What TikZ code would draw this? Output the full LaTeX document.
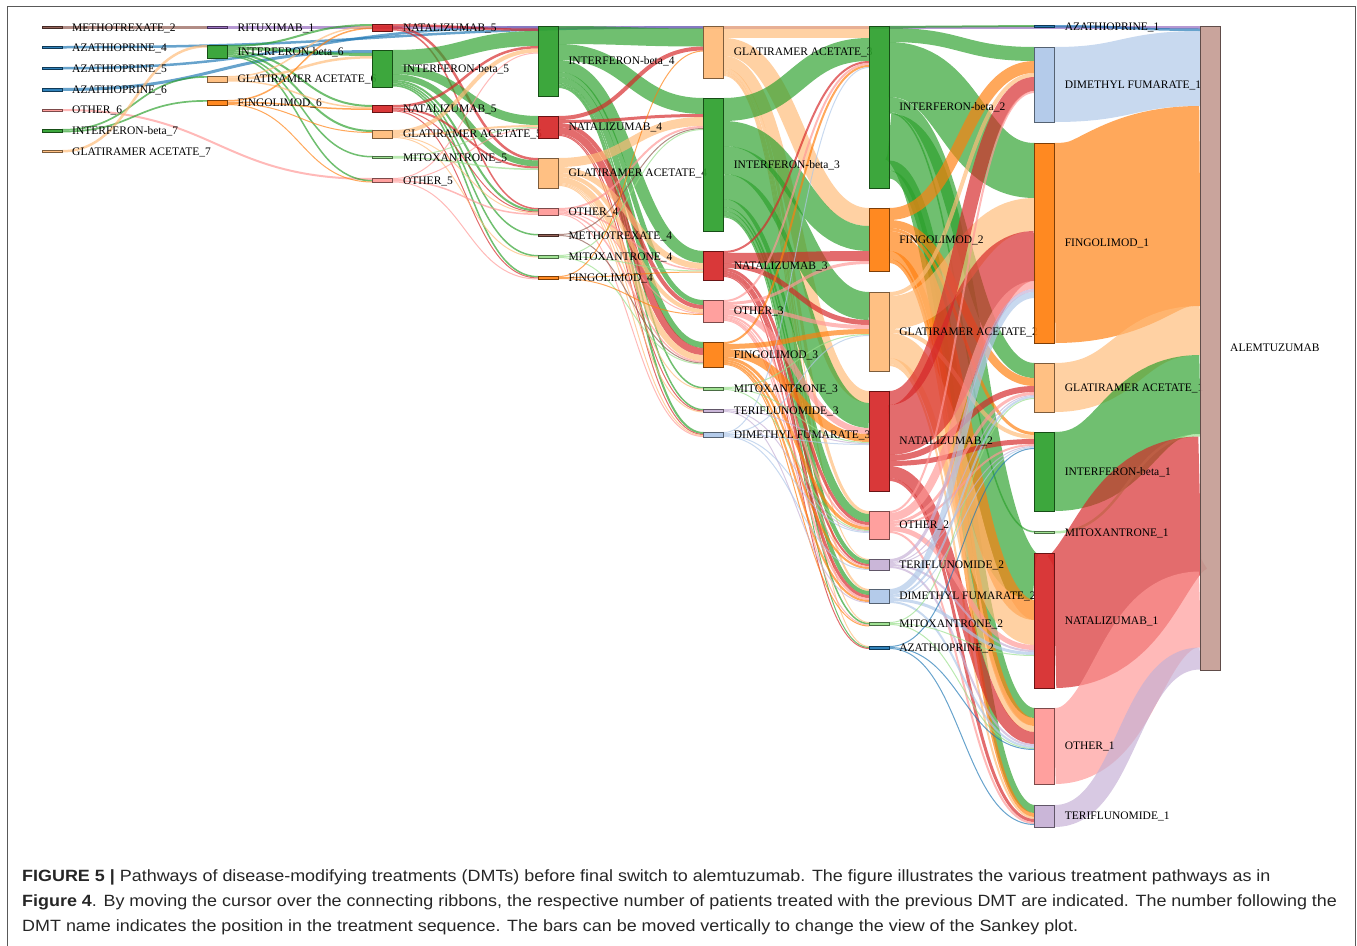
\documentclass[tikz,border=0pt]{standalone}
\usepackage{fontspec}
\setmainfont{Liberation Serif}
\newfontfamily\capfont[FakeStretch=1.1]{Liberation Sans}
\usetikzlibrary{calc}
\pgfdeclarelayer{bg}
\pgfsetlayers{bg,main}
\definecolor{cifn}{HTML}{2CA02C}
\definecolor{cfin}{HTML}{FF7F0E}
\definecolor{cga}{HTML}{FFBB78}
\definecolor{cnat}{HTML}{D62728}
\definecolor{coth}{HTML}{FF9896}
\definecolor{cdmf}{HTML}{AEC7E8}
\definecolor{cter}{HTML}{C5B0D5}
\definecolor{cmit}{HTML}{98DF8A}
\definecolor{caza}{HTML}{1F77B4}
\definecolor{cmet}{HTML}{8C564B}
\definecolor{crit}{HTML}{9467BD}
\definecolor{calem}{HTML}{C49C94}
\tikzset{
  dmtbar/.style={rectangle, inner sep=0pt, outer sep=0pt, minimum width=20pt, line width=0.9pt, fill opacity=0.92},
  dmtlab/.style={anchor=west, inner sep=0pt, text height=7.6pt, text depth=0pt, font=\fontsize{11.5}{12}\selectfont},
  ribbon/.style={draw opacity=0.68, line cap=butt},
  capline/.style={anchor=base west, inner sep=0pt, text=black!85, font=\capfont\fontsize{16.3}{18}\selectfont},
}
\newcommand\mknode[6]{%
  \node[dmtbar, fill=#5, draw=#5!49!black, minimum height=#4pt, anchor=north west] (#1) at (#2,#3) {};
  \node[dmtlab] (#1-l) at ($(#1.east)+(10,0)$) {#6};
  \expandafter\xdef\csname dmto@#1\endcsname{0}%
  \expandafter\xdef\csname dmti@#1\endcsname{0}%
  \expandafter\xdef\csname dmtc@#1\endcsname{#5}%
}
\newcommand\dmtlink[3]{%
  \pgfmathsetmacro\fso{\csname dmto@#1\endcsname+#3/2}%
  \pgfmathsetmacro\fdi{\csname dmti@#2\endcsname+#3/2}%
  \pgfmathsetmacro\fnext{\csname dmto@#1\endcsname+#3}%
  \expandafter\xdef\csname dmto@#1\endcsname{\fnext}%
  \pgfmathsetmacro\fnext{\csname dmti@#2\endcsname+#3}%
  \expandafter\xdef\csname dmti@#2\endcsname{\fnext}%
  \edef\fcol{\csname dmtc@#1\endcsname}%
  \draw[ribbon, draw=\fcol, line width=#3pt] let \p1=($(#1.north east)+(0,\fso)$), \p2=($(#2.north west)+(0,\fdi)$) in (\p1) .. controls ({(\x1+\x2)/2},\y1) and ({(\x1+\x2)/2},\y2) .. (\p2);%
}
\begin{document}
\begin{tikzpicture}[x=1pt,y=-1pt]
\useasboundingbox (0,0) rectangle (1357,945);
\draw[line width=1.3pt, black!65] (7.5,946) -- (7.5,6.5) -- (1355.5,6.5) -- (1355.5,946);
% column 7
\mknode{met2}{42}{26}{2.5}{cmet}{METHOTREXATE\_2}
\mknode{aza4}{42}{46}{2.5}{caza}{AZATHIOPRINE\_4}
\mknode{aza5}{42}{67}{2.5}{caza}{AZATHIOPRINE\_5}
\mknode{aza6}{42}{88}{3}{caza}{AZATHIOPRINE\_6}
\mknode{oth6}{42}{109}{2}{coth}{OTHER\_6}
\mknode{ifn7}{42}{129}{3.5}{cifn}{INTERFERON-beta\_7}
\mknode{ga7}{42}{150}{2.5}{cga}{GLATIRAMER ACETATE\_7}
% column 6
\mknode{rit1}{207.4}{26}{2.5}{crit}{RITUXIMAB\_1}
\mknode{ifn6}{207.4}{45}{13}{cifn}{INTERFERON-beta\_6}
\mknode{ga6}{207.4}{76}{6}{cga}{GLATIRAMER ACETATE\_6}
\mknode{fin6}{207.4}{100}{5}{cfin}{FINGOLIMOD\_6}
% column 5
\mknode{nat5a}{372.9}{24}{7}{cnat}{NATALIZUMAB\_5}
\mknode{ifn5}{372.9}{50}{37}{cifn}{INTERFERON-beta\_5}
\mknode{nat5b}{372.9}{105}{7}{cnat}{NATALIZUMAB\_5}
\mknode{ga5}{372.9}{130}{8}{cga}{GLATIRAMER ACETATE\_5}
\mknode{mit5}{372.9}{156}{2.5}{cmit}{MITOXANTRONE\_5}
\mknode{oth5}{372.9}{178}{4.5}{coth}{OTHER\_5}
% column 4
\mknode{ifn4}{538.3}{26}{70}{cifn}{INTERFERON-beta\_4}
\mknode{nat4}{538.3}{116}{22}{cnat}{NATALIZUMAB\_4}
\mknode{ga4}{538.3}{158}{30}{cga}{GLATIRAMER ACETATE\_4}
\mknode{oth4}{538.3}{208}{7}{coth}{OTHER\_4}
\mknode{met4}{538.3}{234}{2.5}{cmet}{METHOTREXATE\_4}
\mknode{mit4}{538.3}{255}{3}{cmit}{MITOXANTRONE\_4}
\mknode{fin4}{538.3}{276}{3}{cfin}{FINGOLIMOD\_4}
% column 3
\mknode{ga3}{703.7}{26}{52}{cga}{GLATIRAMER ACETATE\_3}
\mknode{ifn3}{703.7}{98}{133}{cifn}{INTERFERON-beta\_3}
\mknode{nat3}{703.7}{251}{29}{cnat}{NATALIZUMAB\_3}
\mknode{oth3}{703.7}{300}{22}{coth}{OTHER\_3}
\mknode{fin3}{703.7}{342}{25}{cfin}{FINGOLIMOD\_3}
\mknode{mit3}{703.7}{387}{3}{cmit}{MITOXANTRONE\_3}
\mknode{ter3}{703.7}{409}{3.5}{cter}{TERIFLUNOMIDE\_3}
\mknode{dmf3}{703.7}{432}{5}{cdmf}{DIMETHYL FUMARATE\_3}
% column 2
\mknode{ifn2}{869.1}{26}{162}{cifn}{INTERFERON-beta\_2}
\mknode{fin2}{869.1}{208}{63}{cfin}{FINGOLIMOD\_2}
\mknode{ga2}{869.1}{292}{79}{cga}{GLATIRAMER ACETATE\_2}
\mknode{nat2}{869.1}{391}{100}{cnat}{NATALIZUMAB\_2}
\mknode{oth2}{869.1}{511}{28}{coth}{OTHER\_2}
\mknode{ter2}{869.1}{559}{11}{cter}{TERIFLUNOMIDE\_2}
\mknode{dmf2}{869.1}{589}{14}{cdmf}{DIMETHYL FUMARATE\_2}
\mknode{mit2}{869.1}{622}{3.5}{cmit}{MITOXANTRONE\_2}
\mknode{aza2}{869.1}{646}{3}{caza}{AZATHIOPRINE\_2}
% column 1
\mknode{aza1}{1034.6}{25}{2.5}{caza}{AZATHIOPRINE\_1}
\mknode{dmf1}{1034.6}{47}{75}{cdmf}{DIMETHYL FUMARATE\_1}
\mknode{fin1}{1034.6}{143}{200}{cfin}{FINGOLIMOD\_1}
\mknode{ga1}{1034.6}{363}{49}{cga}{GLATIRAMER ACETATE\_1}
\mknode{ifn1}{1034.6}{432}{79}{cifn}{INTERFERON-beta\_1}
\mknode{mit1}{1034.6}{531}{2.5}{cmit}{MITOXANTRONE\_1}
\mknode{nat1}{1034.6}{553}{135}{cnat}{NATALIZUMAB\_1}
\mknode{oth1}{1034.6}{708}{76}{coth}{OTHER\_1}
\mknode{ter1}{1034.6}{805}{22}{cter}{TERIFLUNOMIDE\_1}
% column 0
\mknode{alem}{1200}{26}{644}{calem}{ALEMTUZUMAB}
\begin{pgfonlayer}{bg}
% from column 7
\dmtlink{met2}{rit1}{2.5}
\dmtlink{aza4}{ga3}{2.5}
\dmtlink{aza5}{ifn4}{2.5}
\dmtlink{aza6}{ifn5}{3}
\dmtlink{oth6}{oth5}{2}
\dmtlink{ifn7}{ga6}{1.7}
\dmtlink{ifn7}{fin6}{1.7}
\dmtlink{ga7}{ifn6}{2.5}
% from column 6
\dmtlink{rit1}{alem}{2.5}
\dmtlink{ifn6}{nat5a}{2}
\dmtlink{ifn6}{ifn5}{3}
\dmtlink{ifn6}{nat5b}{2}
\dmtlink{ifn6}{ga5}{2}
\dmtlink{ifn6}{mit5}{1.5}
\dmtlink{ifn6}{oth5}{1.5}
\dmtlink{ga6}{nat5a}{1.5}
\dmtlink{ga6}{ifn5}{2.5}
\dmtlink{ga6}{nat5b}{1.5}
\dmtlink{fin6}{nat5a}{1.5}
\dmtlink{fin6}{nat5b}{1.5}
\dmtlink{fin6}{ga5}{1}
\dmtlink{fin6}{oth5}{1}
% from column 5
\dmtlink{nat5a}{ifn4}{2.5}
\dmtlink{nat5a}{ga4}{2.5}
\dmtlink{nat5a}{oth4}{1.5}
\dmtlink{ifn5}{ifn4}{15}
\dmtlink{ifn5}{nat4}{9}
\dmtlink{ifn5}{ga4}{6}
\dmtlink{ifn5}{oth4}{2}
\dmtlink{ifn5}{met4}{1.5}
\dmtlink{ifn5}{mit4}{1.5}
\dmtlink{ifn5}{fin4}{1.5}
\dmtlink{nat5b}{ifn4}{2.5}
\dmtlink{nat5b}{ga4}{2}
\dmtlink{nat5b}{oth4}{1}
\dmtlink{nat5b}{fin4}{1}
\dmtlink{ga5}{ifn4}{4}
\dmtlink{ga5}{nat4}{2}
\dmtlink{ga5}{oth4}{1}
\dmtlink{ga5}{mit4}{1}
\dmtlink{mit5}{nat4}{1}
\dmtlink{mit5}{ga4}{1.5}
\dmtlink{oth5}{ifn4}{1}
\dmtlink{oth5}{nat4}{1}
\dmtlink{oth5}{oth4}{1.5}
\dmtlink{oth5}{fin4}{1}
% from column 4
\dmtlink{ifn4}{ga3}{18}
\dmtlink{ifn4}{ifn3}{16}
\dmtlink{ifn4}{nat3}{12}
\dmtlink{ifn4}{oth3}{5}
\dmtlink{ifn4}{fin3}{6}
\dmtlink{ifn4}{mit3}{1.5}
\dmtlink{ifn4}{ter3}{1.5}
\dmtlink{ifn4}{dmf3}{2}
\dmtlink{nat4}{ga3}{4}
\dmtlink{nat4}{ifn3}{3}
\dmtlink{nat4}{oth3}{4}
\dmtlink{nat4}{fin3}{7}
\dmtlink{nat4}{ter3}{1}
\dmtlink{nat4}{dmf3}{1}
\dmtlink{ga4}{ifn3}{9}
\dmtlink{ga4}{nat3}{6}
\dmtlink{ga4}{oth3}{4}
\dmtlink{ga4}{fin3}{6}
\dmtlink{ga4}{mit3}{1}
\dmtlink{ga4}{ter3}{1}
\dmtlink{ga4}{dmf3}{1}
\dmtlink{oth4}{ifn3}{2}
\dmtlink{oth4}{nat3}{1.5}
\dmtlink{oth4}{oth3}{1}
\dmtlink{oth4}{fin3}{1.5}
\dmtlink{oth4}{dmf3}{1}
\dmtlink{met4}{ifn3}{1}
\dmtlink{met4}{fin3}{1}
\dmtlink{mit4}{ifn3}{1}
\dmtlink{mit4}{nat3}{1}
\dmtlink{mit4}{fin3}{1}
\dmtlink{fin4}{ga3}{1}
\dmtlink{fin4}{nat3}{1}
\dmtlink{fin4}{oth3}{1}
% from column 3
\dmtlink{ga3}{ifn2}{12}
\dmtlink{ga3}{fin2}{18}
\dmtlink{ga3}{nat2}{12}
\dmtlink{ga3}{oth2}{3}
\dmtlink{ga3}{ter2}{1}
\dmtlink{ga3}{dmf2}{2}
\dmtlink{ga3}{mit2}{1}
\dmtlink{ga3}{aza2}{1}
\dmtlink{ifn3}{ifn2}{23}
\dmtlink{ifn3}{fin2}{25}
\dmtlink{ifn3}{ga2}{28}
\dmtlink{ifn3}{nat2}{25}
\dmtlink{ifn3}{oth2}{8}
\dmtlink{ifn3}{ter2}{4}
\dmtlink{ifn3}{dmf2}{4}
\dmtlink{ifn3}{mit2}{1.5}
\dmtlink{ifn3}{aza2}{1}
\dmtlink{nat3}{ifn2}{2}
\dmtlink{nat3}{fin2}{10}
\dmtlink{nat3}{ga2}{5}
\dmtlink{nat3}{oth2}{3}
\dmtlink{nat3}{ter2}{2}
\dmtlink{nat3}{dmf2}{3}
\dmtlink{nat3}{aza2}{1}
\dmtlink{oth3}{ifn2}{2}
\dmtlink{oth3}{fin2}{3}
\dmtlink{oth3}{ga2}{4}
\dmtlink{oth3}{nat2}{6}
\dmtlink{oth3}{oth2}{2}
\dmtlink{oth3}{ter2}{1}
\dmtlink{oth3}{dmf2}{2}
\dmtlink{oth3}{mit2}{1}
\dmtlink{fin3}{ifn2}{2}
\dmtlink{fin3}{ga2}{5}
\dmtlink{fin3}{nat2}{8}
\dmtlink{fin3}{oth2}{3}
\dmtlink{fin3}{ter2}{2}
\dmtlink{fin3}{dmf2}{2}
\dmtlink{fin3}{mit2}{1}
\dmtlink{mit3}{ga2}{1}
\dmtlink{mit3}{nat2}{1}
\dmtlink{mit3}{oth2}{1}
\dmtlink{ter3}{nat2}{1}
\dmtlink{ter3}{oth2}{1}
\dmtlink{ter3}{dmf2}{1}
\dmtlink{dmf3}{ifn2}{1}
\dmtlink{dmf3}{ga2}{1}
\dmtlink{dmf3}{nat2}{1}
\dmtlink{dmf3}{oth2}{1}
\dmtlink{dmf3}{ter2}{1}
% from column 2
\dmtlink{ifn2}{aza1}{2}
\dmtlink{ifn2}{dmf1}{14}
\dmtlink{ifn2}{fin1}{55}
\dmtlink{ifn2}{ga1}{15}
\dmtlink{ifn2}{mit1}{1.5}
\dmtlink{ifn2}{nat1}{47}
\dmtlink{ifn2}{oth1}{10}
\dmtlink{ifn2}{ter1}{8}
\dmtlink{fin2}{dmf1}{12}
\dmtlink{fin2}{ga1}{8}
\dmtlink{fin2}{ifn1}{3}
\dmtlink{fin2}{nat1}{20}
\dmtlink{fin2}{oth1}{8}
\dmtlink{fin2}{ter1}{4}
\dmtlink{ga2}{dmf1}{4}
\dmtlink{ga2}{fin1}{33}
\dmtlink{ga2}{ifn1}{4}
\dmtlink{ga2}{nat1}{25}
\dmtlink{ga2}{oth1}{6}
\dmtlink{ga2}{ter1}{2}
\dmtlink{nat2}{dmf1}{14}
\dmtlink{nat2}{fin1}{50}
\dmtlink{nat2}{ga1}{6}
\dmtlink{nat2}{ifn1}{5}
\dmtlink{nat2}{oth1}{12}
\dmtlink{nat2}{ter1}{3}
\dmtlink{oth2}{dmf1}{2}
\dmtlink{oth2}{fin1}{8}
\dmtlink{oth2}{ga1}{3}
\dmtlink{oth2}{ifn1}{2}
\dmtlink{oth2}{nat1}{5}
\dmtlink{oth2}{ter1}{2}
\dmtlink{ter2}{fin1}{3}
\dmtlink{ter2}{ga1}{1}
\dmtlink{ter2}{ifn1}{1}
\dmtlink{ter2}{nat1}{2}
\dmtlink{ter2}{oth1}{2}
\dmtlink{dmf2}{fin1}{6}
\dmtlink{dmf2}{ga1}{2}
\dmtlink{dmf2}{ifn1}{1}
\dmtlink{dmf2}{nat1}{3}
\dmtlink{dmf2}{oth1}{2}
\dmtlink{mit2}{ga1}{1}
\dmtlink{mit2}{nat1}{1}
\dmtlink{mit2}{oth1}{1}
\dmtlink{aza2}{ifn1}{1}
\dmtlink{aza2}{oth1}{1}
\dmtlink{aza2}{ter1}{1}
% from column 1
\dmtlink{aza1}{alem}{2.5}
\dmtlink{dmf1}{alem}{75}
\dmtlink{fin1}{alem}{200}
\dmtlink{ga1}{alem}{49}
\dmtlink{ifn1}{alem}{79}
\dmtlink{mit1}{alem}{2.5}
\dmtlink{nat1}{alem}{135}
\dmtlink{oth1}{alem}{76}
\dmtlink{ter1}{alem}{22}
\end{pgfonlayer}
% caption
\node[capline] (cap1) at (22,881) {\textbf{FIGURE 5 |} Pathways of disease-modifying treatments (DMTs) before final switch to alemtuzumab. The figure illustrates the various treatment pathways as in};
\node[capline] (cap2) at (22,906) {\textbf{Figure 4}. By moving the cursor over the connecting ribbons, the respective number of patients treated with the previous DMT are indicated. The number following the};
\node[capline] (cap3) at (22,931) {DMT name indicates the position in the treatment sequence. The bars can be moved vertically to change the view of the Sankey plot.};
\end{tikzpicture}
\end{document}
